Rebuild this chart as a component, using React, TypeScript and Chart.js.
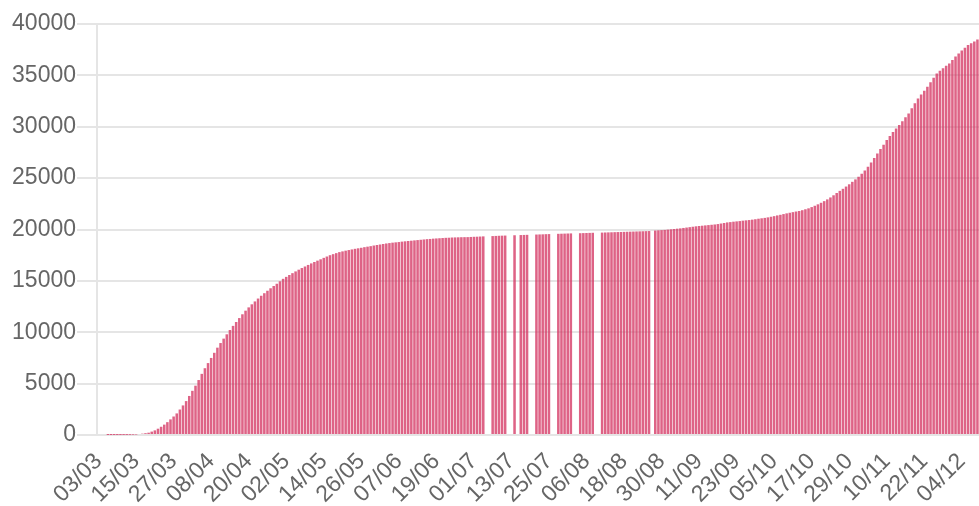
import React, { useEffect, useRef } from "react";
import { Chart, registerables } from "chart.js";

Chart.register(...registerables);

// First day of the series: 03/03 (2020), one bar per day
const START_DAY = { year: 2020, month: 3, day: 3 };
const DAY_COUNT = 282;

// Cumulative values (one per day), null = no data for that day
const VALUES: (number | null)[] = [
  0, 0, 0, 1, 2, 3, 4, 6, 9, 12,
  20, 33, 48, 95, 130, 175, 224, 330, 450, 613,
  800, 1010, 1250, 1520, 1800, 2100, 2480, 2880, 3300, 3800,
  4300, 4800, 5350, 5950, 6500, 7000, 7500, 8000, 8500, 8950,
  9380, 9800, 10220, 10620, 11000, 11380, 11750, 12100, 12420, 12720,
  13000, 13280, 13550, 13800, 14040, 14280, 14500, 14720, 14960, 15200,
  15390, 15570, 15750, 15920, 16090, 16250, 16400, 16550, 16700, 16840,
  16970, 17100, 17240, 17370, 17500, 17600, 17700, 17800, 17870, 17940,
  18000, 18060, 18120, 18170, 18220, 18280, 18330, 18380, 18440, 18490,
  18540, 18590, 18640, 18680, 18720, 18750, 18780, 18820, 18850, 18880,
  18910, 18940, 18970, 19000, 19030, 19060, 19080, 19110, 19130, 19150,
  19170, 19190, 19200, 19220, 19230, 19240, 19250, 19255, 19260, 19275,
  19290, 19300, 19315, 19330, null, null, 19360, 19375, 19390, 19400,
  19410, null, null, 19440, null, 19460, 19470, 19480, null, null,
  19510, 19520, 19530, 19545, 19555, null, null, 19580, 19590, 19600,
  19610, 19620, null, null, 19640, 19650, 19660, 19670, 19680, null,
  null, 19700, 19710, 19720, 19730, 19740, 19750, 19760, 19770, 19780,
  19790, 19800, 19810, 19820, 19830, 19840, 19850, null, 19900, 19920,
  19940, 19960, 19990, 20020, 20050, 20080, 20110, 20150, 20190, 20230,
  20270, 20310, 20340, 20370, 20400, 20430, 20460, 20490, 20530, 20580,
  20630, 20690, 20720, 20760, 20790, 20820, 20860, 20890, 20920, 20960,
  21000, 21050, 21090, 21130, 21180, 21240, 21300, 21370, 21430, 21500,
  21570, 21630, 21690, 21750, 21800, 21880, 21970, 22060, 22180, 22310,
  22450, 22600, 22760, 22930, 23120, 23330, 23550, 23760, 23960, 24180,
  24400, 24640, 24880, 25130, 25430, 25750, 26100, 26520, 26950, 27400,
  27830, 28260, 28700, 29100, 29480, 29830, 30160, 30530, 30920, 31300,
  31800, 32280, 32760, 33130, 33500, 33890, 34330, 34760, 35190, 35450,
  35700, 35930, 36160, 36500, 36830, 37140, 37420, 37690, 37950, 38120,
  38300, 38500,
];

// Show one date label every 12 days
const LABEL_EVERY = 12;
const Y_MAX = 40000;
const Y_STEP = 5000;

function buildDates(): string[] {
  const out: string[] = [];
  const d = new Date(Date.UTC(START_DAY.year, START_DAY.month - 1, START_DAY.day));
  for (let i = 0; i < DAY_COUNT; i++) {
    const dd = String(d.getUTCDate()).padStart(2, "0");
    const mm = String(d.getUTCMonth() + 1).padStart(2, "0");
    out.push(`${dd}/${mm}`);
    d.setUTCDate(d.getUTCDate() + 1);
  }
  return out;
}
const DATES = buildDates();

export default function App() {
  const ref = useRef<HTMLCanvasElement | null>(null);
  useEffect(() => {
    if (!ref.current) return;
    const font = { family: "'Liberation Sans', Arial, Helvetica, sans-serif", size: 23 };
    const chart = new Chart(ref.current, {
      type: "bar",
      data: {
        labels: DATES,
        datasets: [
          {
            data: VALUES,
            backgroundColor: "rgba(211, 47, 94, 0.75)",
            borderWidth: 0,
            barPercentage: 0.9,
            categoryPercentage: 0.9,
          },
        ],
      },
      options: {
        animation: false,
        responsive: true,
        maintainAspectRatio: false,
        layout: { padding: { top: 24, left: 0, right: 0, bottom: 0 } },
        plugins: { legend: { display: false }, tooltip: { enabled: false } },
        scales: {
          x: {
            grid: { display: false, drawTicks: false },
            border: { display: false },
            ticks: {
              autoSkip: false,
              minRotation: 45,
              maxRotation: 45,
              padding: 13,
              color: "#666",
              font,
              callback: (_v: any, i: number) => (i % LABEL_EVERY === 0 ? DATES[i] : null),
            },
            afterFit: (s: any) => {
              s.height = 71;
              s.paddingRight = 0;
              s.paddingLeft = 0;
            },
          },
          y: {
            min: 0,
            max: Y_MAX,
            grid: { color: "rgba(0,0,0,0.1)", lineWidth: 2, tickLength: 20 },
            border: { display: true, color: "rgba(0,0,0,0.1)", width: 2 },
            ticks: {
              stepSize: Y_STEP,
              padding: 1,
              color: "#666",
              font,
              callback: (v: any) => String(v),
            },
            afterFit: (s: any) => {
              s.width = 97;
            },
          },
        },
      },
    });
    return () => chart.destroy();
  }, []);
  return (
    <div style={{ position: "fixed", left: 0, top: 0, width: 979, height: 506, background: "#fff" }}>
      <canvas ref={ref} />
    </div>
  );
}
